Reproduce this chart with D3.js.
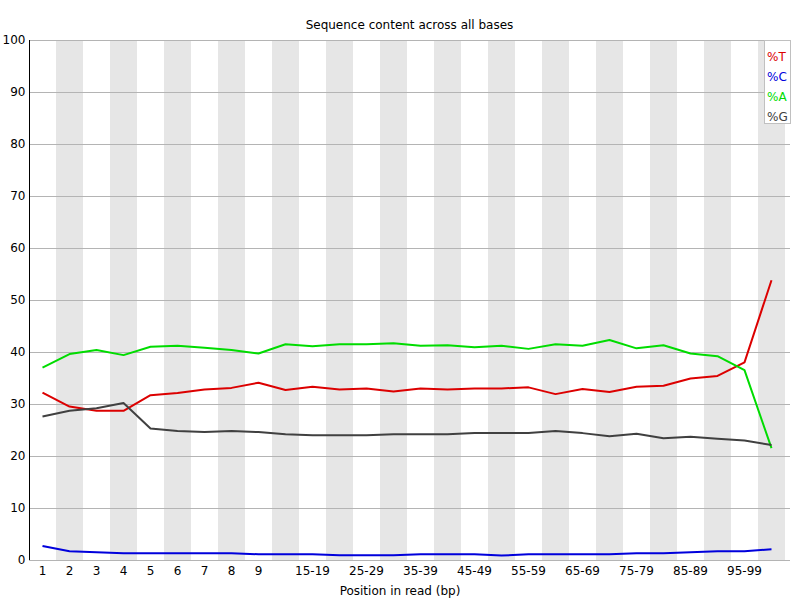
<!DOCTYPE html>
<html><head><meta charset="utf-8">
<script src="https://cdn.jsdelivr.net/npm/d3@7"></script>
<style>body{margin:0;background:#fff}text{font-family:"DejaVu Sans",sans-serif;font-size:12px}</style>
</head><body><svg id="c" width="800" height="600"></svg>
<script>
const categories = ["1","2","3","4","5","6","7","8","9","10-14","15-19","20-24","25-29","30-34","35-39","40-44","45-49","50-54","55-59","60-64","65-69","70-74","75-79","80-84","85-89","90-94","95-99","100-101"];
const shownLabels = ["1","2","3","4","5","6","7","8","9","15-19","25-29","35-39","45-49","55-59","65-69","75-79","85-89","95-99"];
const yTicks = [0,10,20,30,40,50,60,70,80,90,100];
const seriesNames = ["%T","%C","%A","%G"];
const seriesColors = ["#dc0000","#0000dc","#00dc00","#404040"];
const pctT = [32.2,29.5,28.7,28.7,31.7,32.1,32.8,33.1,34.1,32.7,33.3,32.8,33.0,32.4,33.0,32.8,33.0,33.0,33.2,31.9,32.9,32.3,33.3,33.5,34.9,35.4,38.0,53.8];
const pctC = [2.7,1.7,1.5,1.3,1.3,1.3,1.3,1.3,1.1,1.1,1.1,0.9,0.9,0.9,1.1,1.1,1.1,0.85,1.1,1.1,1.1,1.1,1.3,1.3,1.5,1.7,1.7,2.05];
const pctA = [37.0,39.6,40.4,39.4,41.0,41.2,40.8,40.4,39.7,41.5,41.1,41.5,41.5,41.7,41.2,41.3,40.9,41.2,40.6,41.5,41.2,42.3,40.7,41.3,39.7,39.2,36.5,21.5];
const pctG = [27.6,28.7,29.2,30.2,25.3,24.8,24.6,24.8,24.6,24.2,24.0,24.0,24.0,24.2,24.2,24.2,24.4,24.4,24.4,24.8,24.4,23.8,24.3,23.4,23.7,23.3,23.0,22.1];
const series = [pctT, pctC, pctA, pctG];

const W = 800, H = 600, xOff = 29, baseW = 27;
const svg = d3.select("#c");
const x = d3.scaleBand().domain(categories).range([xOff, xOff + baseW*categories.length]).padding(0);
const y = d3.scaleLinear().domain([0,100]).range([H-40, 40]);

// stripes
svg.append("g").selectAll("rect").data(categories.filter((d,i)=>i%2===1)).join("rect")
  .attr("x", d=>x(d)).attr("y", 40).attr("width", x.bandwidth()).attr("height", H-80)
  .attr("fill", "#e6e6e6");

// title
svg.append("text").attr("x", (xOff + W-10)/2).attr("y", 29).attr("text-anchor","middle")
  .text("Sequence content across all bases");

// grid lines
svg.append("g").selectAll("line").data(yTicks).join("line")
  .attr("x1", xOff).attr("x2", W-10).attr("y1", d=>Math.round(y(d))+0.5).attr("y2", d=>Math.round(y(d))+0.5)
  .attr("stroke", "#b4b4b4").attr("stroke-width", 1);

// y axis
const yAxis = svg.append("g").attr("transform", `translate(${xOff+0.5},0)`)
  .call(d3.axisLeft(y).tickValues(yTicks).tickSize(0).tickPadding(4));
yAxis.select(".domain").attr("stroke","#000").attr("d", `M0,${y(0)}V${y(100)}`);
yAxis.selectAll("text").attr("font-family","DejaVu Sans").attr("font-size",12).attr("fill","#000");

// x axis
const xAxis = svg.append("g").attr("transform", `translate(0,${y(0)})`)
  .call(d3.axisBottom(x).tickValues(shownLabels).tickSize(0));
xAxis.select(".domain").remove();
xAxis.selectAll("text").attr("y", 15).attr("dy", 0).attr("font-family","DejaVu Sans").attr("font-size",12).attr("fill","#000");

svg.append("text").attr("x", W/2).attr("y", H-5).attr("text-anchor","middle").text("Position in read (bp)");

// lines
const line = d3.line().x((d,i)=>x(categories[i]) + x.bandwidth()/2).y(d=>y(d));
svg.append("g").selectAll("path").data(series).join("path")
  .attr("d", d=>line(d)).attr("fill","none").attr("stroke",(d,i)=>seriesColors[i]).attr("stroke-width",2)
  .attr("stroke-linejoin","round");

// legend
const lg = svg.append("g");
lg.append("rect").attr("x", 764.5).attr("y", 40.5).attr("width", 26).attr("height", 83)
  .attr("fill","#fff").attr("stroke","#c0c0c0");
lg.selectAll("text").data(seriesNames).join("text")
  .attr("x", 767).attr("y", (d,i)=>61 + 20*i).attr("fill",(d,i)=>seriesColors[i]).text(d=>d);
</script></body></html>
